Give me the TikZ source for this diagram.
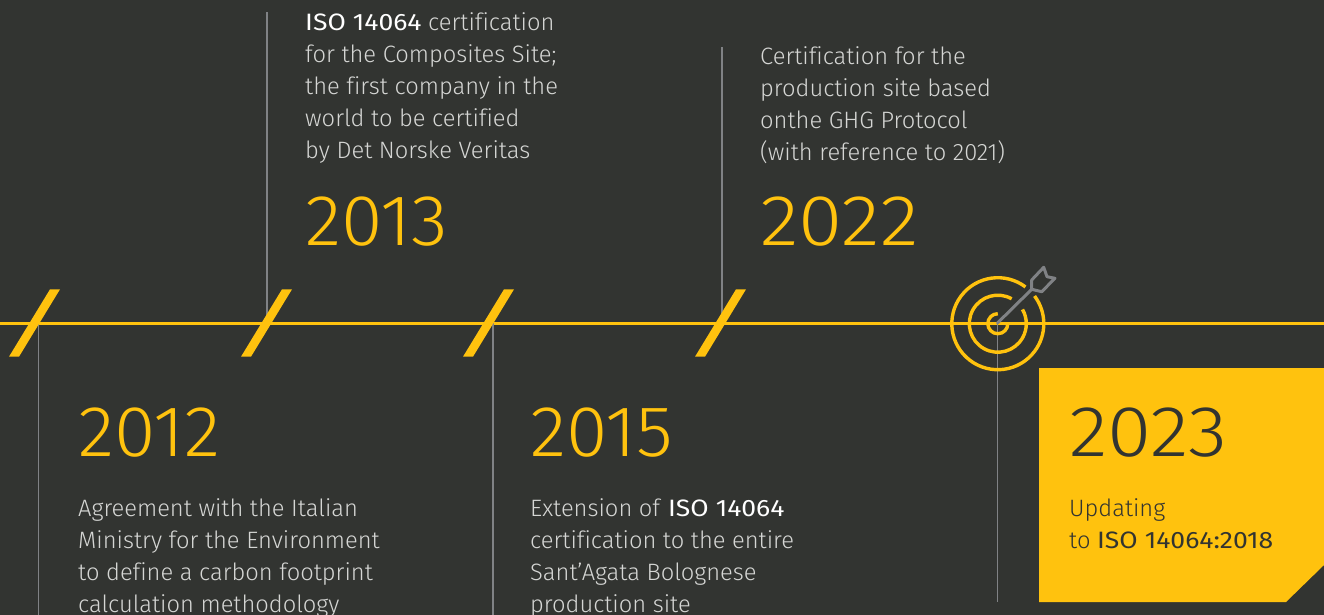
\documentclass[tikz,border=0pt]{standalone}
\usepackage{fontspec}
\setmainfont{Fira Sans Light}[BoldFont={Fira Sans},BoldFeatures={FakeStretch=1.12},Numbers=Proportional,Ligatures=NoCommon]
\newfontfamily\yearfont{Fira Sans Light}[FakeStretch=1.045,Numbers=Proportional]
\newfontfamily\wideyearfont{Fira Sans Light}[FakeStretch=1.115,Numbers=Proportional]
\definecolor{ground}{HTML}{323431}
\definecolor{gold}{HTML}{FFC20E}
\definecolor{stem}{HTML}{808285}
\definecolor{copytext}{HTML}{D5D6D4}
\tikzset{
  year/.style={anchor=base west, inner sep=0pt, gold, font=\yearfont\fontsize{72}{72}\selectfont},
  wideyear/.style={year, font=\wideyearfont\fontsize{72}{72}\selectfont},
  blurb/.style={anchor=north west, inner sep=0pt, align=left, copytext, font=\fontsize{23.7}{32}\selectfont},
  stemline/.style={stem, line width=1.4pt},
  ring/.style={gold, line width=3.4pt}
}
\newcommand{\hi}[1]{\textbf{\textcolor{white}{#1}}}
\begin{document}
\begin{tikzpicture}[x=1pt, y=1pt]
  \useasboundingbox (0,0) rectangle (1324,-615);
  \fill [ground] (0,0) rectangle (1324,-615);

  % axis
  \coordinate (axisL) at (0,-323);
  \coordinate (axisR) at (1324,-323);
  \draw [gold, line width=3pt] (axisL) -- (axisR);

  % stems
  \coordinate (a2012) at (38.5,-323);
  \coordinate (e2012) at (38.5,-615);
  \coordinate (a2013) at (267,-323);
  \coordinate (e2013) at (267,-12);
  \coordinate (a2015) at (493,-323);
  \coordinate (e2015) at (493,-615);
  \coordinate (a2022) at (722,-323);
  \coordinate (e2022) at (722,-47);
  \coordinate (a2023) at (997.5,-323);
  \coordinate (e2023) at (997.5,-602);
  \draw [stemline] (a2012) -- (e2012);
  \draw [stemline] (a2013) -- (e2013);
  \draw [stemline] (a2015) -- (e2015);
  \draw [stemline] (a2022) -- (e2022);
  \draw [stemline] (a2023) -- (e2023);

  % ticks on the axis
  \foreach \dx in {0,232,454,686} {
    \fill [gold, xshift=\dx pt] (50,-289.3) -- (60,-289.3) -- (19,-356.7) -- (9,-356.7) -- cycle;
  }

  % target
  \draw [ring] (997.8,-323.7) ++(53:46) arc (53:397:46);
  \draw [ring] (997.8,-323.7) ++(61:28.5) arc (61:390:28.5);
  \draw [ring] (997.8,-323.7) ++(90:10) arc (90:360:10);
  \draw [stem, line width=3pt, line join=round, line cap=round] (a2023) -- (1031.7,-289.3)
    (1031.7,-289.3) -- (1031.7,-280) -- (1043.7,-267.3) -- (1047,-276.7) -- (1055,-278.3) -- (1041.7,-291.7) -- cycle;

  % highlighted box
  \fill [gold] (1039,-368) -- (1324,-368) -- (1324,-565) -- (1286,-602) -- (1039,-602) -- cycle;

  % texts
  \node [year] (y2012) at (78,-456) {2012};
  \node [blurb] (t2012) at (78,-498.4) {Agreement with the Italian\\Ministry for the Environment\\to define a carbon footprint\\calculation methodology};

  \node [blurb] (t2013) at (305,-12.4) {\hi{ISO 14064} certification\\for the Composites Site;\\the first company in the\\world to be certified\\by Det Norske Veritas};
  \node [year] (y2013) at (305,-245) {2013};

  \node [year] (y2015) at (530,-456) {2015};
  \node [blurb] (t2015) at (530,-498.4) {Extension of \hi{ISO 14064}\\certification to the entire\\Sant’Agata Bolognese\\production site};

  \node [blurb] (t2022) at (760,-46.4) {Certification for the\\production site based\\onthe GHG Protocol\\(with reference to 2021)};
  \node [wideyear] (y2022) at (760,-245) {2022};

  \node [wideyear, text=ground] (y2023) at (1069,-456) {2023};
  \node [blurb, text=ground] (t2023) at (1069,-498.4) {Updating\\to \textbf{ISO 14064:2018}};
\end{tikzpicture}
\end{document}
